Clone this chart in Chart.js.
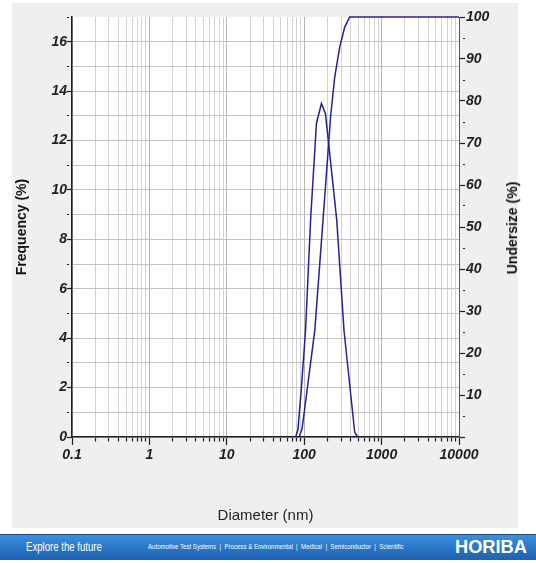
<!DOCTYPE html>
<html lang="en">
<head>
  <meta charset="UTF-8"/>
  <title>Particle size distribution</title>
  <style>
    body {
      margin: 0;
      padding: 0;
      background: #fff;
      width: 536px;
      height: 563px;
      position: relative;
      overflow: hidden;
      font-family: 'Liberation Sans', Arial, sans-serif;
    }
    #panel {
      position: absolute;
      left: 12px;
      top: 3px;
      width: 506px;
      height: 525px;
      background: #efefef;
    }
    #chart {
      display: block;
    }
    #rightTitle {
      position: absolute;
      left: 512px;
      top: 228px;
      transform: translate(-50%, -50%) rotate(-90deg);
      font-weight: bold;
      font-size: 14px;
      color: #111;
      white-space: nowrap;
    }
    #banner {
      position: absolute;
      left: 0;
      top: 534px;
      width: 536px;
      height: 25px;
      background: linear-gradient(#3d8fdc, #2a74c6 55%, #1f62b0);
      border-top: 1px solid #154d8c;
      color: #fff;
    }
    #banner span {
      position: absolute;
      white-space: nowrap;
      transform-origin: left center;
    }
    #banner .tag {
      left: 26px;
      top: 5px;
      font-size: 12px;
      transform: scaleX(0.8);
    }
    #banner .fields {
      left: 148px;
      top: 7px;
      font-size: 8px;
      transform: scaleX(0.76);
    }
    #banner .logo {
      left: 455px;
      top: 1px;
      font-weight: bold;
      font-size: 19px;
      transform: scaleX(0.96);
    }
  </style>
</head>
<body>

<div id="panel">
  <canvas id="chart" width="506" height="525"></canvas>
</div>
<div id="rightTitle">Undersize (%)</div>
<div id="banner">
  <span class="tag">Explore the future</span>
  <span class="fields">Automotive Test Systems &nbsp;|&nbsp; Process &amp; Environmental &nbsp;|&nbsp; Medical &nbsp;|&nbsp; Semiconductor &nbsp;|&nbsp; Scientific</span>
  <span class="logo">HORIBA</span>
</div>

<script src="https://cdn.jsdelivr.net/npm/chart.js"></script>
<script>
// frequency distribution (left axis)
const freqDiameters = [77.6, 83, 92, 104, 121, 144, 167, 188, 263, 327, 449, 491];
const freqValues    = [0, 0.3, 2.0, 4.3, 8.8, 12.7, 13.5, 13.1, 8.8, 4.3, 0.2, 0];

// cumulative undersize (right axis)
const cumDiameters = [86, 94, 137, 175, 220, 248, 288, 334, 387, 10000];
const cumValues    = [0, 2, 25.4, 51.6, 76.6, 85.7, 92.9, 97.6, 100, 100];

// axis labels
const xTickLabels = ['0.1', '1', '10', '100', '1000', '10000'];
const freqTickLabels = ['0', '2', '4', '6', '8', '10', '12', '14', '16'];
const undersizeTickLabels = ['10', '20', '30', '40', '50', '60', '70', '80', '90', '100'];

const tickFont = {
  family: "'Liberation Sans', sans-serif",
  size: 14,
  style: 'italic',
  weight: 'bold'
};
const INK = '#1f1f1f';
const LINE = '#22229a';

// every 1..9 step of each decade, 0.1 .. 10000
const xMajors = xTickLabels.map(Number);
const xTickValues = [];
for (let d = -1; d <= 3; d++) {
  for (let m = 1; m <= 9; m++) {
    xTickValues.push(Number((m * Math.pow(10, d)).toPrecision(3)));
  }
}
xTickValues.push(10000);

const isMajorX = v => xMajors.some(m => Math.abs(m - v) < m * 1e-6);

const plotBackground = {
  id: 'plotBackground',
  beforeDraw(chart) {
    const a = chart.chartArea;
    const c = chart.ctx;
    c.save();
    c.fillStyle = '#ffffff';
    c.fillRect(a.left, a.top, a.right - a.left, a.bottom - a.top);
    c.restore();
  }
};

new Chart(document.getElementById('chart').getContext('2d'), {
  type: 'scatter',
  data: {
    datasets: [
      {
        label: 'Frequency',
        data: freqDiameters.map((d, i) => ({ x: d, y: freqValues[i] })),
        yAxisID: 'y',
        showLine: true,
        borderColor: LINE,
        borderWidth: 1.5,
        pointRadius: 0,
        tension: 0,
        clip: 3
      },
      {
        label: 'Undersize',
        data: cumDiameters.map((d, i) => ({ x: d, y: cumValues[i] })),
        yAxisID: 'y1',
        showLine: true,
        borderColor: LINE,
        borderWidth: 1.5,
        pointRadius: 0,
        tension: 0,
        clip: 3
      }
    ]
  },
  options: {
    responsive: false,
    animation: false,
    layout: { padding: { top: 14, left: 0, right: 0, bottom: 0 } },
    plugins: {
      legend: { display: false },
      tooltip: { enabled: false }
    },
    scales: {
      x: {
        type: 'logarithmic',
        min: 0.1,
        max: 10000,
        afterBuildTicks: s => { s.ticks = xTickValues.map(v => ({ value: v })); },
        afterFit: s => { s.height = 91; },
        ticks: {
          autoSkip: false,
          maxRotation: 0,
          padding: 2,
          color: INK,
          font: tickFont,
          callback: v => {
            const i = xMajors.findIndex(m => Math.abs(m - v) < m * 1e-6);
            return i >= 0 ? xTickLabels[i] : '';
          }
        },
        grid: {
          color: c => (isMajorX(c.tick.value) ? '#b4b4b4' : '#d2d2d2'),
          lineWidth: 1,
          tickLength: 8,
          tickColor: INK,
          tickWidth: 1.2,
          tickBorderDash: c => (isMajorX(c.tick.value) ? [] : [4, 20])
        },
        border: { color: INK, width: 1.5 },
        title: {
          display: true,
          text: 'Diameter (nm)',
          color: INK,
          font: { family: "'Liberation Sans', sans-serif", size: 15 },
          padding: { top: 0, bottom: 3 }
        }
      },
      y: {
        position: 'left',
        min: 0,
        max: 17,
        afterFit: s => { s.width = 60; },
        ticks: {
          stepSize: 1,
          padding: 0,
          color: INK,
          font: tickFont,
          callback: v => (freqTickLabels.includes(String(v)) ? String(v) : '')
        },
        grid: {
          color: c => (c.tick.value === 17 ? 'rgba(0,0,0,0)' : '#c2c2c2'),
          lineWidth: 1,
          tickLength: 5,
          tickColor: INK,
          tickWidth: 1.2,
          tickBorderDash: c => (c.tick.value % 2 === 0 ? [] : [2, 20])
        },
        border: { color: INK, width: 1.5 },
        title: {
          display: true,
          text: 'Frequency (%)',
          color: '#111',
          font: { family: "'Liberation Sans', sans-serif", size: 14, weight: 'bold' },
          padding: { top: 2, bottom: 0 }
        }
      },
      y1: {
        position: 'right',
        min: 0,
        max: 100,
        afterFit: s => { s.width = 59; },
        ticks: {
          stepSize: 5,
          padding: 1,
          color: INK,
          font: tickFont,
          callback: v => (undersizeTickLabels.includes(String(v)) ? String(v) : '')
        },
        grid: {
          drawOnChartArea: false,
          tickLength: 6,
          tickColor: INK,
          tickWidth: 1.2,
          tickBorderDash: c => (c.tick.value % 10 === 0 ? [] : [0, 3, 2, 20])
        },
        border: { color: '#555', width: 1 },
        title: { display: false }
      }
    }
  },
  plugins: [plotBackground]
});
</script>

</body>
</html>
